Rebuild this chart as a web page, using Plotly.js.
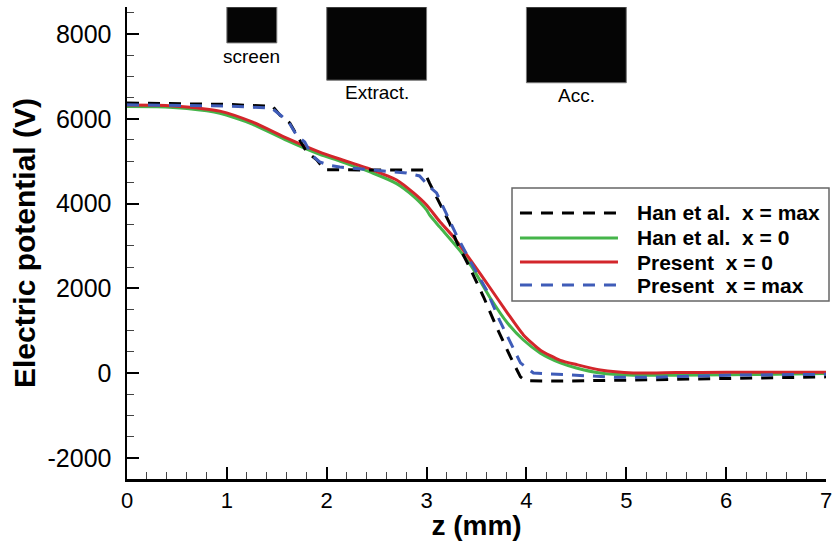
<!DOCTYPE html>
<html>
<head>
<meta charset="utf-8">
<script src="https://cdn.plot.ly/plotly-3.0.1.min.js"></script>
<style>html,body{margin:0;padding:0;background:#fff}#chart{width:832px;height:541px}</style>
</head>
<body>
<div id="chart"></div>
<script>
// ---- data ----
const seriesNames = ['Han et al.\u00a0 x = max', 'Han et al.\u00a0 x = 0', 'Present\u00a0 x = 0', 'Present\u00a0 x = max'];

const hanMaxZ = [0, 0.5, 1.0, 1.46, 1.53, 1.63, 1.8, 1.9, 1.98, 2.5, 2.97, 3.03, 3.13, 3.23, 3.3, 3.43, 3.57, 3.7, 3.84, 3.94, 3.99, 4.3, 5.07, 6.07, 7.0];
const hanMaxV = [6370, 6360, 6340, 6290, 6090, 5900, 5215, 5030, 4800, 4790, 4790, 4480, 4010, 3540, 3100, 2500, 1800, 1090, 380, -90, -180, -190, -165, -120, -90];

const hanZeroZ = [0, 0.3, 0.6, 0.93, 1.26, 1.6, 1.93, 2.13, 2.46, 2.7, 2.87, 3.0, 3.03, 3.13, 3.33, 3.46, 3.63, 3.81, 3.97, 4.14, 4.34, 4.5, 4.74, 5.07, 5.5, 6.0, 6.5, 7.0];
const hanZeroV = [6290, 6285, 6240, 6130, 5870, 5490, 5160, 5000, 4720, 4470, 4170, 3850, 3730, 3450, 2900, 2480, 1800, 1180, 780, 470, 240, 120, 0, -50, -50, -40, -30, -10];

const presZeroZ = [0, 0.3, 0.6, 0.93, 1.26, 1.6, 1.93, 2.13, 2.46, 2.7, 2.87, 3.0, 3.13, 3.27, 3.46, 3.63, 3.81, 3.97, 4.14, 4.34, 4.5, 4.74, 5.07, 5.5, 6.0, 6.5, 7.0];
const presZeroV = [6325, 6320, 6280, 6180, 5920, 5545, 5215, 5050, 4790, 4555, 4250, 3965, 3580, 3210, 2600, 2030, 1415, 900, 540, 300, 200, 70, 0, 10, 20, 20, 20];

const presMaxZ = [0, 0.5, 1.0, 1.45, 1.55, 1.63, 1.7, 1.78, 1.85, 1.93, 2.03, 2.13, 2.5, 2.8, 2.93, 3.03, 3.1, 3.2, 3.3, 3.47, 3.6, 3.73, 3.84, 3.94, 4.07, 4.24, 4.57, 4.9, 5.24, 6.07, 7.0];
const presMaxV = [6330, 6320, 6300, 6250, 6060, 5880, 5600, 5450, 5140, 4980, 4900, 4860, 4790, 4720, 4650, 4390, 4250, 3750, 3250, 2500, 1960, 1250, 710, 240, 0, -20, -50, -100, -100, -50, -30];

// electrode blocks: [label, zStart, zEnd, lower potential edge]
const electrodeNames = ['screen', 'Extract.', 'Acc.'];
const electrodeZ0 = [1.0, 2.0, 4.0];
const electrodeZ1 = [1.5, 3.0, 5.0];
const electrodeBottom = [7790, 6910, 6850];
const electrodeLabelV = [7480, 6608, 6560];

const xTicks = [0, 1, 2, 3, 4, 5, 6, 7];
const yTicks = [-2000, 0, 2000, 4000, 6000, 8000];
const yRange = [-2500, 8637];

// ---- styles ----
const FONT = 'Liberation Sans, Arial, Helvetica, sans-serif';
const colors = ['#000000', '#45b54a', '#d3262b', '#3f5cb8'];
const dashes = ['12px,9px', 'solid', 'solid', '12px,9px'];
const shapesOfLine = ['linear', 'spline', 'spline', 'linear'];
const order = [1, 2, 0, 3]; // drawing order: green, red, black, blue
const xs = [hanMaxZ, hanZeroZ, presZeroZ, presMaxZ];
const ys = [hanMaxV, hanZeroV, presZeroV, presMaxV];

const traces = order.map(i => ({
  type: 'scatter', mode: 'lines', name: seriesNames[i],
  x: xs[i], y: ys[i],
  line: {color: colors[i], width: 3, dash: dashes[i], shape: shapesOfLine[i], smoothing: 0.6},
  showlegend: false, hoverinfo: 'skip', cliponaxis: true
}));

const shapes = [];
const annotations = [];
electrodeNames.forEach((name, i) => {
  shapes.push({type: 'rect', xref: 'x', yref: 'y', x0: electrodeZ0[i], x1: electrodeZ1[i],
    y0: electrodeBottom[i], y1: yRange[1], fillcolor: '#050505', line: {color: '#777', width: 1}});
  annotations.push({xref: 'x', yref: 'y', x: (electrodeZ0[i] + electrodeZ1[i]) / 2, y: electrodeLabelV[i],
    text: name, showarrow: false, xanchor: 'center', yanchor: 'middle',
    font: {family: FONT, size: 19, color: '#000'}});
});

// custom legend (box + long line samples)
const legX0 = 0.5508, legX1 = 1.0043, legY0 = 0.3771, legY1 = 0.6165;
const sampleX0 = 0.5622, sampleX1 = 0.7024, textX = 0.7268;
const rowY = [0.5636, 0.5106, 0.4597, 0.4110];
shapes.push({type: 'rect', xref: 'paper', yref: 'paper', x0: legX0, x1: legX1, y0: legY0, y1: legY1,
  fillcolor: '#ffffff', line: {color: '#666', width: 1.5}, layer: 'above'});
seriesNames.forEach((name, i) => {
  shapes.push({type: 'line', xref: 'paper', yref: 'paper', x0: sampleX0, x1: sampleX1, y0: rowY[i], y1: rowY[i],
    line: {color: colors[i], width: 3, dash: dashes[i]}, layer: 'above'});
  annotations.push({xref: 'paper', yref: 'paper', x: textX, y: rowY[i], text: name, showarrow: false,
    xanchor: 'left', yanchor: 'middle', font: {family: FONT, size: 21, color: '#000', weight: 'bold'}});
});

const layout = {
  width: 832, height: 541,
  margin: {l: 127, r: 6, t: 7, b: 62},
  paper_bgcolor: '#fff', plot_bgcolor: '#fff',
  font: {family: FONT, color: '#000'},
  xaxis: {
    range: [0, 7], tickvals: xTicks, ticktext: xTicks.map(String),
    ticks: 'inside', ticklen: 12, tickwidth: 2, tickcolor: '#000',
    minor: {dtick: 0.2, tick0: 0, ticks: 'inside', ticklen: 7, tickwidth: 1, tickcolor: '#444'},
    showline: true, linewidth: 2.5, linecolor: '#000', mirror: false,
    showgrid: false, zeroline: false,
    tickfont: {family: FONT, size: 22, color: '#000'},
    ticklabelstandoff: 0, ticklabeloverflow: 'allow',
    title: {text: 'z (mm)', font: {family: FONT, size: 28, color: '#000', weight: 'bold'}, standoff: 0}
  },
  yaxis: {
    range: yRange, tickvals: yTicks, ticktext: yTicks.map(String),
    ticks: 'inside', ticklen: 12, tickwidth: 2, tickcolor: '#000',
    minor: {dtick: 500, tick0: 0, ticks: 'inside', ticklen: 7, tickwidth: 1, tickcolor: '#444'},
    showline: true, linewidth: 2.5, linecolor: '#000', mirror: false,
    showgrid: false, zeroline: false,
    tickfont: {family: FONT, size: 25, color: '#000'},
    ticklabelstandoff: 8,
    title: {text: 'Electric potential (V)', font: {family: FONT, size: 30, color: '#000', weight: 'bold'}, standoff: 3}
  },
  shapes: shapes,
  annotations: annotations,
  showlegend: false
};

Plotly.newPlot('chart', traces, layout, {displayModeBar: false, staticPlot: true});
</script>
</body>
</html>
